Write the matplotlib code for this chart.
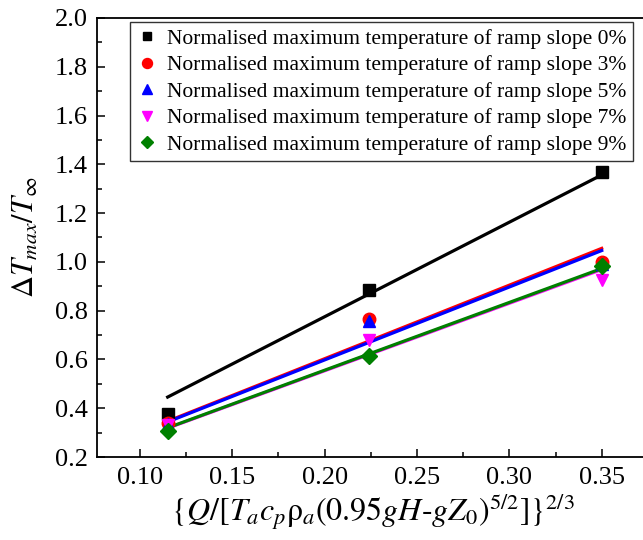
import numpy as np
import matplotlib
matplotlib.use("Agg")
import matplotlib.pyplot as plt
from matplotlib.ticker import MultipleLocator, FormatStrFormatter

# ---------------------------
# Data
# ---------------------------
x_vals = np.array([0.115, 0.224, 0.350])

slope_labels = ["0%", "3%", "5%", "7%", "9%"]
y_0 = [0.375, 0.885, 1.369]
y_3 = [0.339, 0.766, 1.000]
y_5 = [0.335, 0.758, 0.993]
y_7 = [0.331, 0.680, 0.926]
y_9 = [0.305, 0.614, 0.983]

series = [y_0, y_3, y_5, y_7, y_9]
colors = ["black", "#ff0000", "#0000ff", "#ff00ff", "#008000"]
markers = ["s", "o", "^", "v", "D"]
msizes = [8, 9, 9, 9, 8]

plt.rcParams["font.family"] = ["Liberation Serif", "DejaVu Serif"]
plt.rcParams["mathtext.fontset"] = "stix"

fig = plt.figure(figsize=(6.43, 5.40), dpi=100)
ax = fig.add_axes([0.1516, 0.1537, 0.856, 0.813])

# fitted lines through origin (drawn first, markers on top)
for ys, c in zip(series, colors):
    ys = np.asarray(ys)
    k = np.sum(x_vals * ys) / np.sum(x_vals ** 2)
    xf = np.array([x_vals[0], x_vals[-1]])
    ax.plot(xf, k * xf, color=c, lw=2.3, zorder=2)

for ys, c, m, ms, lab in zip(series, colors, markers, msizes, slope_labels):
    ax.plot(x_vals, ys, linestyle="none", marker=m, color=c, ms=ms, zorder=3,
            label="Normalised maximum temperature of ramp slope " + lab)

ax.set_xlim(0.077, 0.375)
ax.set_ylim(0.2, 2.0)
ax.xaxis.set_major_locator(MultipleLocator(0.05))
ax.xaxis.set_minor_locator(MultipleLocator(0.025))
ax.yaxis.set_major_locator(MultipleLocator(0.2))
ax.yaxis.set_minor_locator(MultipleLocator(0.1))
ax.xaxis.set_major_formatter(FormatStrFormatter("%.2f"))
ax.yaxis.set_major_formatter(FormatStrFormatter("%.1f"))
ax.tick_params(which="both", direction="in", labelsize=19, width=1.1)
ax.tick_params(which="major", length=6, pad=7)
ax.tick_params(which="minor", length=3.5)
for sp in ax.spines.values():
    sp.set_linewidth(1.3)

ax.set_ylabel(r"$\Delta T_{max}/T_{\infty}$", fontsize=22, labelpad=10)
ax.set_xlabel(r"$\{Q/[T_a c_p \mathrm{ρ}_a(0.95gH\text{-}gZ_0)^{5/2}]\}^{2/3}$",
              fontsize=23, labelpad=2)

leg = ax.legend(loc="upper right", bbox_to_anchor=(633 / 643, 1 - 22 / 540),
                bbox_transform=fig.transFigure, fontsize=15.5, frameon=True,
                fancybox=False, edgecolor="black", handlelength=0.9,
                handletextpad=0.5, labelspacing=0.3, borderpad=0.3,
                borderaxespad=0.0, markerscale=0.8)
leg.get_frame().set_linewidth(1.0)

fig.savefig("out.png", dpi=100)
